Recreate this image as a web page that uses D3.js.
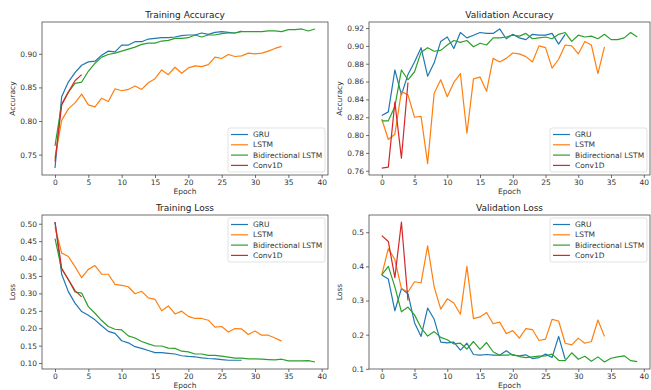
<!DOCTYPE html>
<html>
<head>
<meta charset="utf-8">
<script src="https://cdn.jsdelivr.net/npm/d3@7"></script>
<style>
  body { margin: 0; background: #fff; }
  svg { display: block; font-family: 'DejaVu Sans', sans-serif; }
</style>
</head>
<body>
<div id="chart"></div>
<script>
// model names + colors (matplotlib tab10)
const models = ['GRU', 'LSTM', 'Bidirectional LSTM', 'Conv1D']
const colors = ['#1f77b4', '#ff7f0e', '#2ca02c', '#d62728']
const xTicks = [0, 5, 10, 15, 20, 25, 30, 35, 40]

// Training accuracy
const gruTrainAcc = [0.730, 0.836, 0.858, 0.872, 0.883, 0.888, 0.889, 0.898, 0.904, 0.903, 0.913, 0.913, 0.918, 0.918, 0.922, 0.923, 0.924, 0.924, 0.925, 0.927, 0.928, 0.928, 0.931, 0.929, 0.932, 0.933, 0.932, 0.931, 0.934]
const lstmTrainAcc = [0.745, 0.801, 0.818, 0.827, 0.840, 0.824, 0.821, 0.834, 0.829, 0.848, 0.845, 0.847, 0.852, 0.847, 0.857, 0.863, 0.876, 0.869, 0.880, 0.871, 0.879, 0.882, 0.881, 0.884, 0.895, 0.893, 0.899, 0.896, 0.897, 0.901, 0.900, 0.901, 0.904, 0.908, 0.911]
const bilstmTrainAcc = [0.763, 0.825, 0.843, 0.856, 0.858, 0.874, 0.886, 0.895, 0.899, 0.901, 0.904, 0.907, 0.910, 0.914, 0.916, 0.916, 0.919, 0.920, 0.923, 0.923, 0.924, 0.928, 0.925, 0.928, 0.928, 0.930, 0.931, 0.931, 0.933, 0.933, 0.933, 0.933, 0.934, 0.934, 0.933, 0.936, 0.936, 0.937, 0.934, 0.937]
const convTrainAcc = [0.740, 0.824, 0.843, 0.860, 0.869]

// Validation accuracy
const gruValAcc = [0.822, 0.826, 0.873, 0.845, 0.868, 0.882, 0.898, 0.866, 0.881, 0.905, 0.910, 0.897, 0.915, 0.909, 0.912, 0.915, 0.914, 0.914, 0.919, 0.908, 0.913, 0.909, 0.907, 0.913, 0.912, 0.912, 0.914, 0.902, 0.913]
const lstmValAcc = [0.818, 0.795, 0.801, 0.849, 0.845, 0.820, 0.821, 0.768, 0.847, 0.862, 0.843, 0.859, 0.869, 0.802, 0.863, 0.865, 0.849, 0.886, 0.882, 0.886, 0.892, 0.891, 0.888, 0.882, 0.900, 0.898, 0.875, 0.885, 0.901, 0.900, 0.891, 0.905, 0.901, 0.869, 0.899]
const bilstmValAcc = [0.816, 0.816, 0.832, 0.873, 0.862, 0.871, 0.893, 0.898, 0.894, 0.895, 0.901, 0.906, 0.904, 0.906, 0.899, 0.903, 0.901, 0.909, 0.909, 0.910, 0.912, 0.911, 0.914, 0.908, 0.909, 0.910, 0.908, 0.913, 0.915, 0.905, 0.912, 0.910, 0.911, 0.908, 0.913, 0.907, 0.907, 0.909, 0.915, 0.910]
const convValAcc = [0.763, 0.764, 0.837, 0.774, 0.859]

// Training loss
const gruTrainLoss = [0.505, 0.355, 0.305, 0.272, 0.248, 0.237, 0.224, 0.207, 0.191, 0.185, 0.164, 0.158, 0.147, 0.142, 0.136, 0.130, 0.130, 0.128, 0.126, 0.121, 0.119, 0.118, 0.115, 0.113, 0.112, 0.110, 0.108, 0.108, 0.108]
const lstmTrainLoss = [0.490, 0.416, 0.406, 0.377, 0.345, 0.369, 0.380, 0.355, 0.355, 0.326, 0.323, 0.319, 0.299, 0.306, 0.287, 0.283, 0.250, 0.264, 0.241, 0.249, 0.234, 0.228, 0.228, 0.223, 0.203, 0.205, 0.189, 0.199, 0.198, 0.182, 0.192, 0.180, 0.180, 0.172, 0.163]
const bilstmTrainLoss = [0.457, 0.370, 0.340, 0.304, 0.301, 0.262, 0.243, 0.222, 0.205, 0.197, 0.195, 0.178, 0.172, 0.162, 0.155, 0.149, 0.149, 0.143, 0.142, 0.134, 0.132, 0.126, 0.126, 0.122, 0.122, 0.120, 0.117, 0.114, 0.114, 0.112, 0.112, 0.111, 0.110, 0.109, 0.111, 0.106, 0.106, 0.106, 0.107, 0.103]
const convTrainLoss = [0.505, 0.372, 0.340, 0.308, 0.290]

// Validation loss
const gruValLoss = [0.375, 0.363, 0.270, 0.335, 0.320, 0.235, 0.195, 0.278, 0.245, 0.178, 0.176, 0.178, 0.155, 0.175, 0.142, 0.140, 0.142, 0.140, 0.140, 0.153, 0.140, 0.138, 0.141, 0.130, 0.133, 0.143, 0.133, 0.195, 0.128]
const lstmValLoss = [0.375, 0.452, 0.420, 0.335, 0.325, 0.355, 0.352, 0.460, 0.340, 0.275, 0.305, 0.293, 0.260, 0.400, 0.247, 0.252, 0.265, 0.232, 0.237, 0.203, 0.212, 0.190, 0.218, 0.215, 0.183, 0.187, 0.245, 0.240, 0.175, 0.170, 0.190, 0.175, 0.180, 0.243, 0.195]
const bilstmValLoss = [0.375, 0.400, 0.340, 0.267, 0.281, 0.258, 0.220, 0.196, 0.209, 0.192, 0.185, 0.173, 0.175, 0.158, 0.180, 0.157, 0.177, 0.150, 0.140, 0.140, 0.142, 0.136, 0.133, 0.135, 0.137, 0.138, 0.143, 0.125, 0.124, 0.147, 0.128, 0.137, 0.122, 0.135, 0.120, 0.131, 0.135, 0.138, 0.124, 0.121]
const convValLoss = [0.490, 0.473, 0.367, 0.530, 0.300]

const W = 651, H = 390

const svg = d3.select('#chart')
  .append('svg')
  .attr('width', W)
  .attr('height', H)

// each subplot: frame box, title, y label, y ticks, legend spot
const panels = [
  { title: 'Training Accuracy', ylabel: 'Accuracy', box: [42, 22, 328, 175], series: [gruTrainAcc, lstmTrainAcc, bilstmTrainAcc, convTrainAcc], yTicks: [0.75, 0.80, 0.85, 0.90], fmt: '.2f', legend: 'lower' },
  { title: 'Validation Accuracy', ylabel: 'Accuracy', box: [369, 22, 650, 175], series: [gruValAcc, lstmValAcc, bilstmValAcc, convValAcc], yTicks: [0.76, 0.78, 0.80, 0.82, 0.84, 0.86, 0.88, 0.90, 0.92], fmt: '.2f', legend: 'lower' },
  { title: 'Training Loss', ylabel: 'Loss', box: [42, 215, 328, 369], series: [gruTrainLoss, lstmTrainLoss, bilstmTrainLoss, convTrainLoss], yTicks: [0.10, 0.15, 0.20, 0.25, 0.30, 0.35, 0.40, 0.45, 0.50], fmt: '.2f', legend: 'upper' },
  { title: 'Validation Loss', ylabel: 'Loss', box: [369, 215, 650, 369], series: [gruValLoss, lstmValLoss, bilstmValLoss, convValLoss], yTicks: [0.1, 0.2, 0.3, 0.4, 0.5], fmt: '.1f', legend: 'upper' }
]

function drawPanel(p) {
  const [x0, y0, x1, y1] = p.box
  const g = svg.append('g')

  // matplotlib-style 5% margins
  const maxLen = d3.max(p.series, s => s.length) - 1
  const xPad = maxLen * 0.05
  const all = p.series.flat()
  const [lo, hi] = d3.extent(all)
  const yPad = (hi - lo) * 0.05

  const x = d3.scaleLinear().domain([-xPad, maxLen + xPad]).range([x0, x1])
  const y = d3.scaleLinear().domain([lo - yPad, hi + yPad]).range([y1, y0])

  // lines
  const line = d3.line()
    .x((d, i) => x(i))
    .y(d => y(d))

  g.append('g')
    .selectAll('path')
    .data(p.series)
    .join('path')
    .attr('d', d => line(d))
    .attr('fill', 'none')
    .attr('stroke', (d, i) => colors[i])
    .attr('stroke-width', 1.2)
    .attr('stroke-linejoin', 'round')

  // axes
  const xAxis = d3.axisBottom(x).tickValues(xTicks).tickSize(3).tickPadding(2)
  const yAxis = d3.axisLeft(y).tickValues(p.yTicks).tickFormat(d3.format(p.fmt)).tickSize(3).tickPadding(2)

  const gx = g.append('g').attr('transform', `translate(0,${y1})`).call(xAxis)
  const gy = g.append('g').attr('transform', `translate(${x0},0)`).call(yAxis)

  for (const ax of [gx, gy]) {
    ax.select('.domain').remove()
    ax.selectAll('line').attr('stroke', '#333').attr('stroke-width', 0.7)
    ax.selectAll('text').attr('fill', '#333').style('font-size', '7.5px').style('font-family', "'DejaVu Sans'")
  }

  // frame
  g.append('rect')
    .attr('x', x0).attr('y', y0)
    .attr('width', x1 - x0).attr('height', y1 - y0)
    .attr('fill', 'none')
    .attr('stroke', '#333')
    .attr('stroke-width', 0.7)

  // title and labels
  g.append('text')
    .attr('x', (x0 + x1) / 2).attr('y', y0 - 4)
    .attr('text-anchor', 'middle')
    .attr('fill', '#222')
    .style('font-size', '9px')
    .text(p.title)

  g.append('text')
    .attr('x', (x0 + x1) / 2).attr('y', y1 + 19)
    .attr('text-anchor', 'middle')
    .attr('fill', '#333')
    .style('font-size', '7.5px')
    .text('Epoch')

  g.append('text')
    .attr('transform', `translate(${x0 - 27},${(y0 + y1) / 2}) rotate(-90)`)
    .attr('text-anchor', 'middle')
    .attr('fill', '#333')
    .style('font-size', '7.5px')
    .text(p.ylabel)

  // legend
  const lw = 97, lh = 44
  const lx = x1 - 3 - lw
  const ly = p.legend === 'upper' ? y0 + 3 : y1 - 3 - lh
  const leg = g.append('g').attr('transform', `translate(${lx},${ly})`)

  leg.append('rect')
    .attr('width', lw).attr('height', lh)
    .attr('rx', 2)
    .attr('fill', '#fff')
    .attr('fill-opacity', 0.8)
    .attr('stroke', '#d6d6d6')
    .attr('stroke-width', 0.7)

  const items = leg.selectAll('g.item')
    .data(models)
    .join('g')
    .attr('class', 'item')
    .attr('transform', (d, i) => `translate(0,${6.5 + i * 10.3})`)

  items.append('line')
    .attr('x1', 3).attr('x2', 20)
    .attr('stroke', (d, i) => colors[i])
    .attr('stroke-width', 1.2)

  items.append('text')
    .attr('x', 25).attr('dy', '0.35em')
    .attr('fill', '#333')
    .style('font-size', '7.5px')
    .text(d => d)
}

panels.forEach(drawPanel)
</script>
</body>
</html>
